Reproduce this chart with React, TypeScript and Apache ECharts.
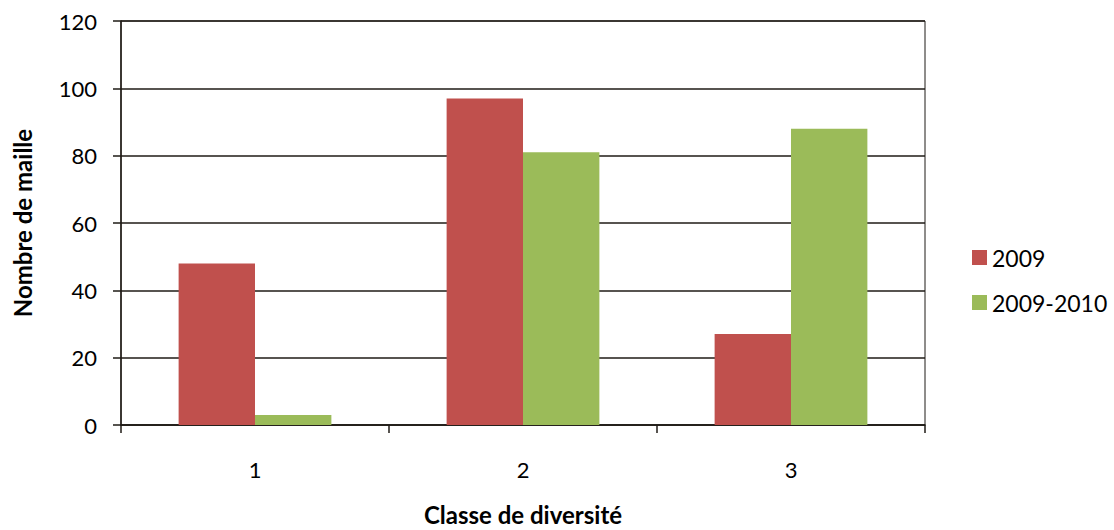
import React, { useEffect, useRef } from "react";
import * as echarts from "echarts";

const categories = ["1", "2", "3"];
const series2009 = [48, 97, 27];
const series2009_2010 = [3, 81, 88];
const seriesNames = ["2009", "2009-2010"];
const yTicks = { min: 0, max: 120, interval: 20 };

const FONT = "Lato, 'Open Sans', sans-serif";
const INK = "#1f1b16";

export default function App() {
  const ref = useRef<HTMLDivElement>(null);

  useEffect(() => {
    if (!ref.current) return;
    const chart = echarts.init(ref.current, null, { renderer: "svg" });
    chart.setOption({
      animation: false,
      backgroundColor: "#ffffff",
      textStyle: { fontFamily: FONT },
      grid: {
        left: 121,
        top: 21,
        width: 804,
        height: 404,
        show: true,
        borderColor: INK,
        borderWidth: 1,
        containLabel: false,
        outerBoundsMode: "none",
      },
      legend: {
        orient: "vertical",
        left: 967,
        top: 241,
        itemWidth: 15,
        itemHeight: 15,
        itemGap: 22,
        icon: "rect",
        textStyle: { fontFamily: FONT, fontSize: 23, color: "#000" },
        data: seriesNames,
      },
      xAxis: {
        type: "category",
        data: categories,
        name: "Classe de diversité",
        nameLocation: "middle",
        nameGap: 76,
        nameTextStyle: {
          fontFamily: FONT,
          fontSize: 24,
          lineHeight: 26,
          fontWeight: "bold",
          color: "#000",
        },
        axisLine: { lineStyle: { color: INK, width: 1.5 } },
        axisTick: { show: true, alignWithLabel: false, length: 8, lineStyle: { color: INK, width: 1.5 } },
        axisLabel: { fontFamily: FONT, fontSize: 22, color: "#000", margin: 33 },
      },
      yAxis: {
        type: "value",
        min: yTicks.min,
        max: yTicks.max,
        interval: yTicks.interval,
        name: "Nombre de maille",
        nameLocation: "middle",
        nameGap: 87,
        nameRotate: 90,
        nameTextStyle: { fontFamily: FONT, fontSize: 24, fontWeight: "bold", color: "#000" },
        axisLine: { show: true, lineStyle: { color: INK, width: 1.5 } },
        axisTick: { show: true, length: 8, lineStyle: { color: INK, width: 1.5 } },
        axisLabel: { fontFamily: FONT, fontSize: 22, color: "#000", margin: 24 },
        splitLine: { show: true, lineStyle: { color: INK, width: 1.5 } },
      },
      series: [
        {
          name: seriesNames[0],
          type: "bar",
          data: series2009,
          itemStyle: { color: "#c0504d" },
          barGap: "0%",
          barCategoryGap: "43%",
        },
        {
          name: seriesNames[1],
          type: "bar",
          data: series2009_2010,
          itemStyle: { color: "#9bbb59" },
          barGap: "0%",
          barCategoryGap: "43%",
        },
      ],
    });
    return () => chart.dispose();
  }, []);

  return (
    <div
      ref={ref}
      style={{ position: "fixed", left: 0, top: 0, width: 1114, height: 530 }}
    />
  );
}
